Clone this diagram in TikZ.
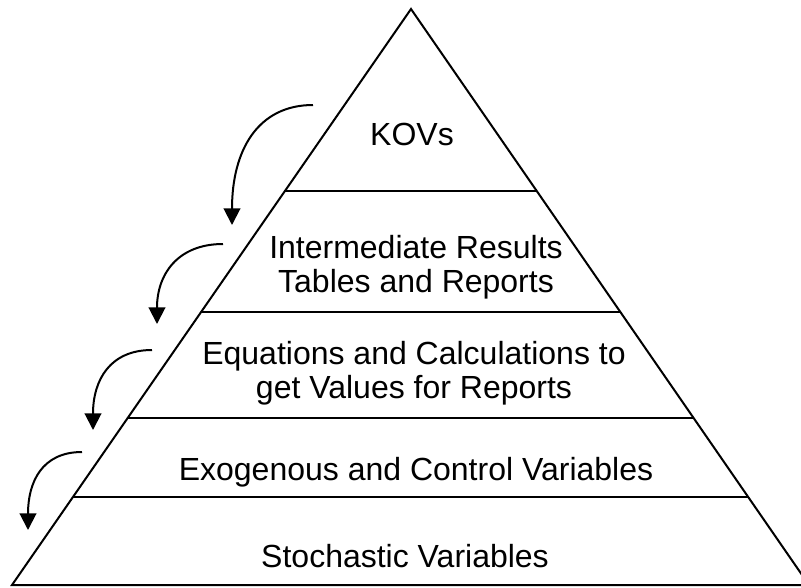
\documentclass[tikz,border=0pt]{standalone}
\usepackage{fontspec}
\setmainfont{Liberation Sans}
\usetikzlibrary{arrows.meta,calc}

\begin{document}
\begin{tikzpicture}[
  x=0.75pt, y=-0.75pt,
  edge/.style={line width=1.5pt, line join=miter},
  tier/.style={line width=1.5pt},
  down/.style={-{Triangle[length=12.5pt,width=12.5pt]}, line width=1.5pt},
  lab/.style={font=\fontsize{24}{25.5}\selectfont, align=center, inner sep=0pt, anchor=base},
]
\useasboundingbox (0,0) rectangle (801,587);

% =========================== PYRAMID ===========================
\coordinate (apex) at (411,9);
\coordinate (bl)   at (12,585);
\coordinate (br)   at (809,585);
\draw[edge] (bl) -- (apex) -- (br) -- cycle;

% tier lines, cut on both slopes
\foreach \y in {190.5,312,418,497}{
  \draw[tier] ($(bl)!{(585-\y)/576}!(apex)$) -- ($(br)!{(585-\y)/576}!(apex)$);}

% =========================== LEVELS ===========================
% (base of a two-line node = baseline of its last line)
\node[lab] (kov)   at (412,145){KOVs};
\node[lab] (inter) at (416,292){Intermediate Results\\Tables and Reports};
\node[lab] (eqn)   at (414,398){Equations and Calculations to\\get Values for Reports};
\node[lab] (exo)   at (416,480){Exogenous and Control Variables};
\node[lab] (stoch) at (405,567){Stochastic Variables};

% =========================== STEP-DOWN ARROWS ===========================
\foreach \i/\sx/\sy/\ex/\ey/\cx/\cy in {1/313/105/232/225/-55/-75,
                                        2/223/244/157/324/-45/-50,
                                        3/152/350/93/430/-42/-50,
                                        4/82/452/28/530/-40/-48}{
  \coordinate (s\i) at (\sx,\sy);
  \coordinate (e\i) at (\ex,\ey);
  \draw[down] (s\i) .. controls +(\cx,0) and +(0,\cy) .. (e\i);}

\end{tikzpicture}
\end{document}
